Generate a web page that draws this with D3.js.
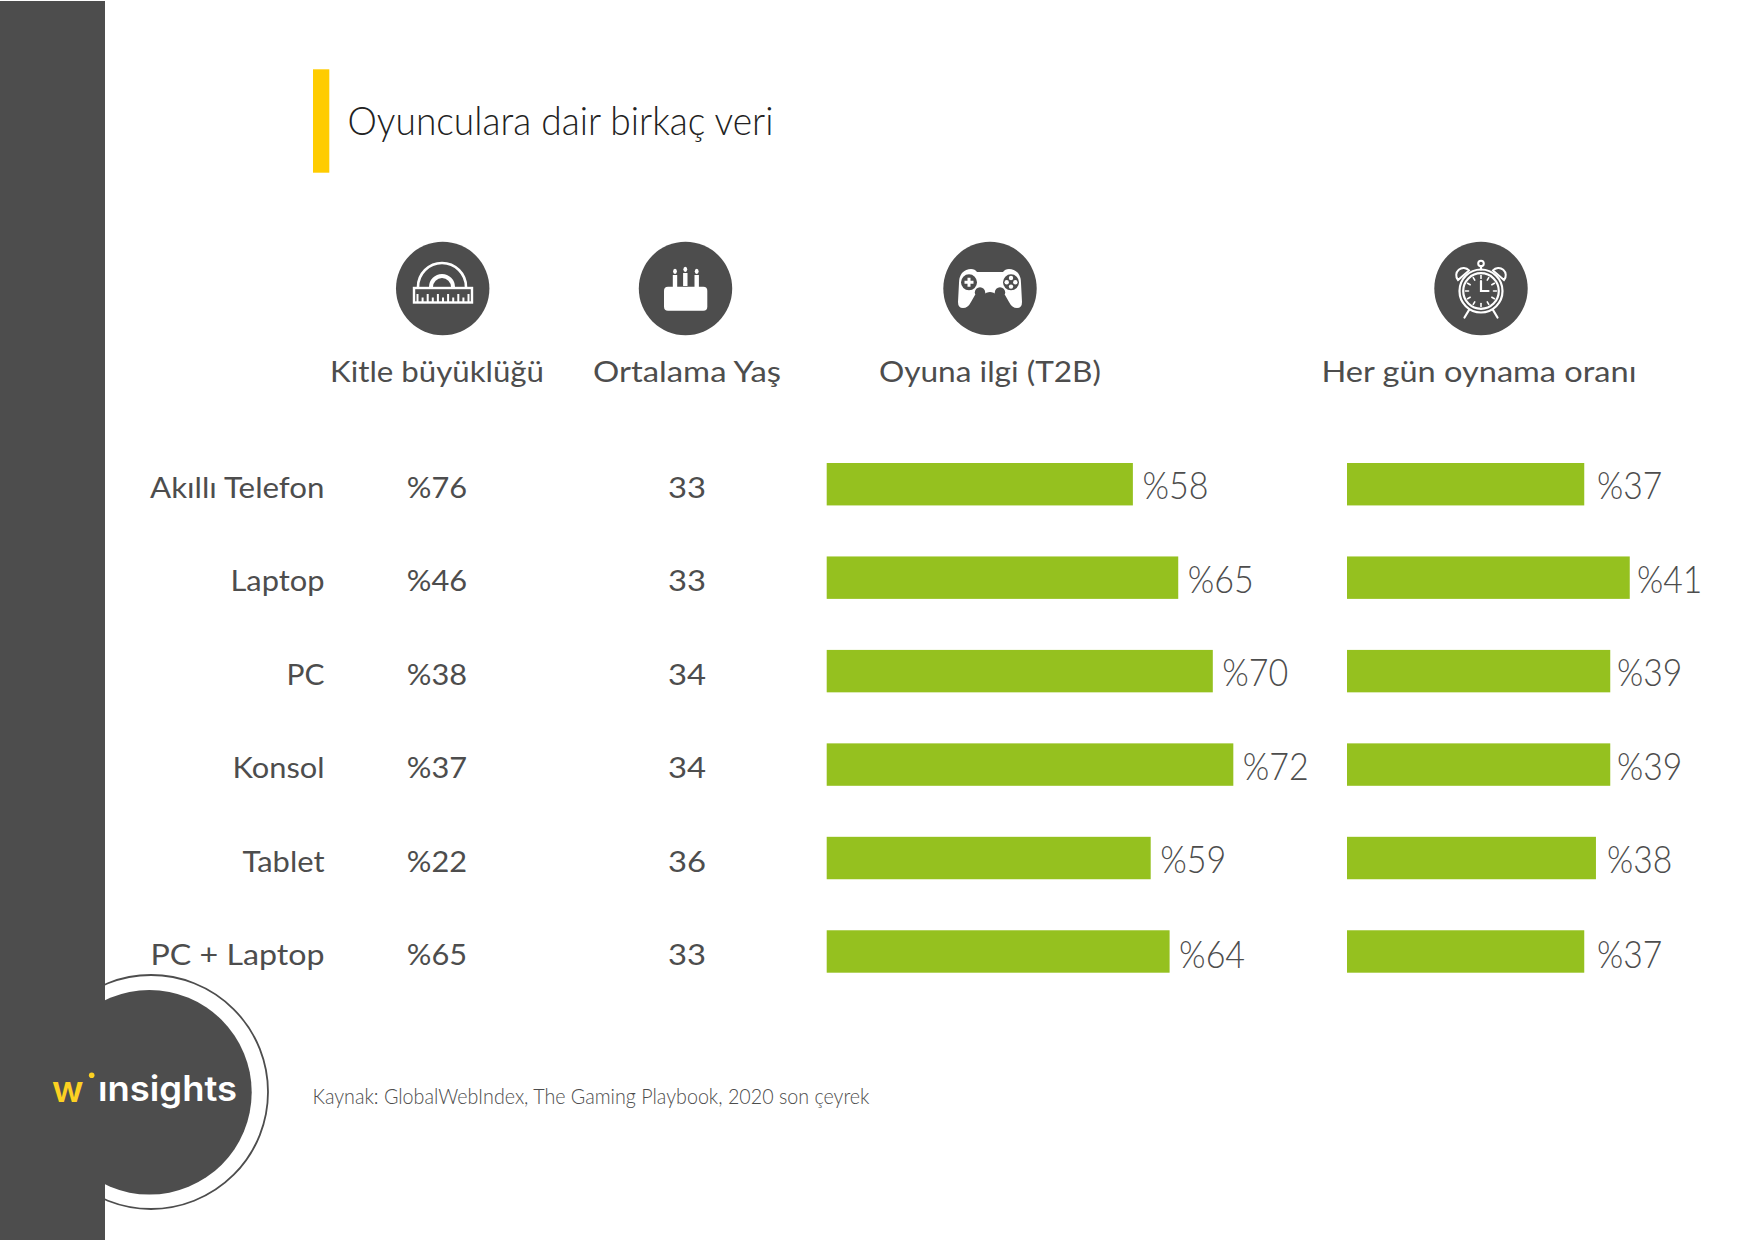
<!DOCTYPE html>
<html lang="tr"><head><meta charset="utf-8">
<script src="https://cdn.jsdelivr.net/npm/d3@7/dist/d3.min.js"></script>
<style>
html,body{margin:0;padding:0;background:#fff}
svg{display:block}
text{font-family:Lato,"Open Sans",sans-serif;fill:#4d4d4d}
</style></head><body><svg id="c" width="1754" height="1241"></svg>
<script>
// ---- data
const categories = ["Akıllı Telefon","Laptop","PC","Konsol","Tablet","PC + Laptop"];
const audienceSize = [76,46,38,37,22,65];
const averageAge = [33,33,34,34,36,33];
const interestPct = [58,65,70,72,59,64];
const dailyPct = [37,41,39,39,38,37];
// the drawn bars are not strictly proportional to their printed labels; lengths
const interestBarLength = [56.7,65.1,71.5,75.3,60.0,63.5];
const dailyBarLength = [36.5,43.5,40.5,40.5,38.3,36.5];
const headers = ["Kitle büyüklüğü","Ortalama Yaş","Oyuna ilgi (T2B)","Her gün oynama oranı"];
const titleText = "Oyunculara dair birkaç veri";
const sourceText = "Kaynak: GlobalWebIndex, The Gaming Playbook, 2020 son çeyrek";

const DARK="#4d4d4d", GREEN="#95c11f", YELLOW="#ffcc00";
const svg=d3.select("#c");
const rows=categories.map((c,i)=>({c,i,size:audienceSize[i],age:averageAge[i],interest:interestPct[i],daily:dailyPct[i],ib:interestBarLength[i],db:dailyBarLength[i]}));

const y=d3.scaleBand().domain(categories).range([463,972.7]).paddingInner(0.546).paddingOuter(0);
const xInterest=d3.scaleLinear().domain([0,100]).range([826.7,1366.7]);
const xDaily=d3.scaleLinear().domain([0,100]).range([1347,1997]);
const dailyLabelX=d3.scaleLinear().domain([37,41]).range([1597,1637]);

function squeeze(sel,f){sel.each(function(){const t=d3.select(this);t.attr("textLength",this.getComputedTextLength()*f).attr("lengthAdjust","spacingAndGlyphs");});}
function fit(sel,w){sel.attr("textLength",w).attr("lengthAdjust","spacingAndGlyphs");}

// sidebar + logo
svg.append("circle").attr("cx",151).attr("cy",1092).attr("r",117).attr("fill","#fff").attr("stroke",DARK).attr("stroke-width",1.8);
svg.append("circle").attr("cx",149.4).attr("cy",1092.3).attr("r",102.3).attr("fill",DARK);
svg.append("rect").attr("x",0).attr("y",1).attr("width",105).attr("height",1239).attr("fill",DARK);
fit(svg.append("text").attr("x",52).attr("y",1101.5).attr("font-size",36).attr("font-weight",600).style("font-family","Inter").style("fill","#fcd122").text("w"),31.5);
svg.append("circle").attr("cx",91.7).attr("cy",1075.3).attr("r",2.8).attr("fill","#fcd122");
fit(svg.append("text").attr("x",98).attr("y",1100.7).attr("font-size",35).attr("font-weight",600).style("font-family","Inter").style("fill","#fff").text("insights"),139);
svg.append("rect").attr("x",97).attr("y",1066).attr("width",13).attr("height",14.6).attr("fill",DARK);

// title
svg.append("rect").attr("x",313).attr("y",69.3).attr("width",16.3).attr("height",103.4).attr("fill",YELLOW);
fit(svg.append("text").attr("x",347.5).attr("y",135).attr("font-size",40).attr("font-weight",300).style("fill","#222").text(titleText),426);

// header icons
const cx=[442.7,685.5,990,1481], cy=288.5;
svg.selectAll("circle.h").data(cx).join("circle").attr("class","h").attr("cx",d=>d).attr("cy",cy).attr("r",46.7).attr("fill",DARK);

// protractor + ruler
const g1=svg.append("g").attr("fill","none").attr("stroke","#fff");
g1.append("rect").attr("x",414).attr("y",288).attr("width",58).attr("height",14.5).attr("stroke-width",2.4);
g1.append("path").attr("d","M418 287A24 24 0 0 1 466 287").attr("stroke-width",2.6);
g1.append("path").attr("d","M431 287A11 11 0 0 1 453 287").attr("stroke-width",4);
d3.range(11).forEach(i=>{const px=417.5+i*5.1;g1.append("line").attr("x1",px).attr("x2",px).attr("y1",302).attr("y2",i%2?297.5:294).attr("stroke-width",2);});

// cake
const g2=svg.append("g").attr("fill","#fff");
g2.append("rect").attr("x",664).attr("y",286.7).attr("width",43.3).attr("height",24).attr("rx",4);
[[675,275,271.3],[685.3,273,269.3],[696.7,275,271.3]].forEach(d=>{
  g2.append("rect").attr("x",d[0]-2.2).attr("y",d[1]).attr("width",4.4).attr("height",13);
  g2.append("ellipse").attr("cx",d[0]).attr("cy",d[2]).attr("rx",1.9).attr("ry",2.6);
});

// game controller
const g3=svg.append("g").attr("transform","translate(990,288)");
g3.append("path").attr("fill","#fff").attr("d","M-28-15Q-24-19-19-19Q-15-19-13-16L13-16Q15-19 19-19Q24-19 28-15Q31-11 31-5L32 14Q32 20 27 20Q22 20 19 14L15 7Q10 6 8 7Q3 4 0 4Q-3 4-8 7Q-10 6-15 7L-19 14Q-22 20-27 20Q-32 20-32 14L-31-5Q-31-11-28-15Z");
g3.selectAll("circle.p").data([[-21,-5.7,8],[21,-5.7,8],[-10,4.5,5.2],[10,4.5,5.2]]).join("circle").attr("class","p").attr("cx",d=>d[0]).attr("cy",d=>d[1]).attr("r",d=>d[2]).attr("fill",DARK);
g3.append("path").attr("fill","none").attr("stroke","#fff").attr("stroke-width",3).attr("d","M-25.5-5.7H-16.5M-21-10.2V-1.2");
[[21,-10],[21,-1.4],[16.7,-5.7],[25.3,-5.7]].forEach(d=>g3.append("circle").attr("cx",d[0]).attr("cy",d[1]).attr("r",2.2).attr("fill","#fff"));

// alarm clock
const g4=svg.append("g").attr("transform","translate(1481,291)").attr("fill","none").attr("stroke","#fff").attr("stroke-linecap","round");
g4.append("circle").attr("r",21.5).attr("stroke-width",2.2);
g4.append("circle").attr("r",17.8).attr("stroke-width",2.2);
d3.range(12).forEach(i=>{const a=i*Math.PI/6;g4.append("line").attr("x1",15.5*Math.sin(a)).attr("y1",-15.5*Math.cos(a)).attr("x2",12.5*Math.sin(a)).attr("y2",-12.5*Math.cos(a)).attr("stroke-width",1.6);});
g4.append("path").attr("d","M0-10V0H7.5").attr("stroke-width",2.2);
g4.append("path").attr("d","M-12-20.5A6.5 6.5 0 1 0-23-11Z M12-20.5A6.5 6.5 0 1 1 23-11Z").attr("stroke-width",2);
g4.append("circle").attr("cy",-27.5).attr("r",2.8).attr("stroke-width",2);
g4.append("path").attr("d","M0-25V-21.5").attr("stroke-width",2.2);
g4.append("path").attr("d","M-12 19L-16.5 26.5M12 19L16.5 26.5").attr("stroke-width",2.2);

// column headers
const hdr=[[330,214],[593,188],[879,222],[1321.5,315]];
svg.selectAll("text.hd").data(headers).join("text").attr("class","hd").attr("x",(d,i)=>hdr[i][0]).attr("y",381.6).attr("font-size",29).text(d=>d)
  .each(function(d,i){fit(d3.select(this),hdr[i][1]);});

// row labels and values
const rowLabelWidths=[174.4,94,38,92,82,174];
const lastRowShift=d=>d.i===5?1.6:0;
const bl=d=>y(d.c)+35;
svg.selectAll("text.rl").data(rows).join("text").attr("class","rl").attr("x",324.5).attr("y",bl).attr("text-anchor","end").attr("font-size",29).text(d=>d.c)
  .each(function(d){fit(d3.select(this),rowLabelWidths[d.i]);});
const sz=svg.selectAll("text.sz").data(rows).join("text").attr("class","sz").attr("x",437).attr("y",bl).attr("text-anchor","middle").attr("font-size",29).text(d=>"%"+d.size);
squeeze(sz,1.06);
const ag=svg.selectAll("text.ag").data(rows).join("text").attr("class","ag").attr("x",687).attr("y",bl).attr("text-anchor","middle").attr("font-size",29).text(d=>d.age);
squeeze(ag,1.13);

// bars
svg.selectAll("rect.bi").data(rows).join("rect").attr("class","bi").attr("x",xInterest(0)).attr("y",d=>y(d.c)).attr("height",y.bandwidth()).attr("width",d=>xInterest(d.ib)-xInterest(0)).attr("fill",GREEN);
svg.selectAll("rect.bd").data(rows).join("rect").attr("class","bd").attr("x",xDaily(0)).attr("y",d=>y(d.c)).attr("height",y.bandwidth()).attr("width",d=>xDaily(d.db)-xDaily(0)).attr("fill",GREEN);

const li=svg.selectAll("text.li").data(rows).join("text").attr("class","li").attr("x",d=>xInterest(d.ib)+9.5).attr("y",d=>y(d.c)+36.2+lastRowShift(d)).attr("font-size",37).attr("font-weight",300).text(d=>"%"+d.interest);
squeeze(li,0.92);
const ld=svg.selectAll("text.ld").data(rows).join("text").attr("class","ld").attr("x",d=>dailyLabelX(d.daily)).attr("y",d=>y(d.c)+36.2+lastRowShift(d)).attr("font-size",37).attr("font-weight",300).text(d=>"%"+d.daily);
squeeze(ld,0.91);

// source
fit(svg.append("text").attr("x",312.5).attr("y",1104).attr("font-size",21).attr("font-weight",300).text(sourceText),557);
</script></body></html>
